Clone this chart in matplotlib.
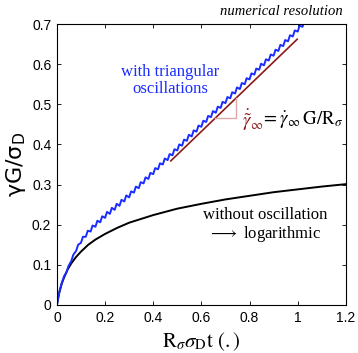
import matplotlib
matplotlib.use("Agg")
import matplotlib.pyplot as plt
import numpy as np

# without oscillation (black, logarithmic-like growth)
black_x = [0, 0.005, 0.01, 0.02, 0.03, 0.045, 0.06, 0.08, 0.1, 0.13, 0.16, 0.2,
           0.25, 0.3, 0.4, 0.5, 0.6, 0.7, 0.8, 0.9, 1.0, 1.1, 1.2]
black_y = [0, 0.017, 0.031, 0.053, 0.069, 0.089, 0.104, 0.120, 0.133, 0.150, 0.163, 0.177,
           0.192, 0.205, 0.224, 0.240, 0.252, 0.263, 0.272, 0.281, 0.288, 0.295, 0.301]

# with triangular oscillations (blue): start, then trough / peak vertices
blue_start_x = [0, 0.01, 0.02, 0.03]
blue_start_y = [0, 0.033, 0.055, 0.072]
trough_x = [0.04, 0.06, 0.08, 0.10, 0.12, 0.14, 0.16, 0.18, 0.20, 0.22, 0.24, 0.26, 0.28,
            0.30, 0.32, 0.34, 0.36, 0.38, 0.40, 0.42, 0.44, 0.46, 0.48, 0.50, 0.52, 0.54,
            0.56, 0.58, 0.60, 0.62, 0.64, 0.66, 0.68, 0.70, 0.72, 0.74, 0.76, 0.78, 0.80,
            0.82, 0.84, 0.86, 0.88, 0.90, 0.92, 0.94, 0.96, 0.98, 1.00, 1.02, 1.04]
trough_y = [0.082, 0.110, 0.135, 0.155, 0.170, 0.183, 0.195, 0.206, 0.217, 0.227, 0.237,
            0.247, 0.258, 0.268, 0.280, 0.291, 0.303, 0.314, 0.326, 0.338, 0.350, 0.361,
            0.373, 0.385, 0.397, 0.409, 0.420, 0.432, 0.444, 0.456, 0.468, 0.479, 0.491,
            0.503, 0.515, 0.527, 0.538, 0.550, 0.562, 0.574, 0.586, 0.597, 0.609, 0.621,
            0.633, 0.645, 0.657, 0.669, 0.681, 0.693, 0.705]
peak_x = [0.048, 0.068, 0.088, 0.108, 0.128, 0.148, 0.168, 0.188, 0.208, 0.228, 0.248,
          0.268, 0.288, 0.308, 0.328, 0.348, 0.368, 0.388, 0.408, 0.428, 0.448, 0.468,
          0.488, 0.508, 0.528, 0.548, 0.568, 0.588, 0.608, 0.628, 0.648, 0.668, 0.688,
          0.708, 0.728, 0.748, 0.768, 0.788, 0.808, 0.828, 0.848, 0.868, 0.888, 0.908,
          0.928, 0.948, 0.968, 0.988, 1.008, 1.028, 1.048]
peak_y = [0.097, 0.125, 0.150, 0.170, 0.185, 0.198, 0.210, 0.221, 0.232, 0.242, 0.252,
          0.262, 0.273, 0.283, 0.295, 0.306, 0.318, 0.329, 0.341, 0.353, 0.365, 0.376,
          0.388, 0.400, 0.412, 0.424, 0.435, 0.447, 0.459, 0.471, 0.483, 0.494, 0.506,
          0.518, 0.530, 0.542, 0.553, 0.565, 0.577, 0.589, 0.601, 0.612, 0.624, 0.636,
          0.648, 0.660, 0.672, 0.684, 0.696, 0.708, 0.720]

# asymptotic slope line and slope triangle
slope_x = [0.473, 0.998]
slope_y = [0.359, 0.662]
tri_x = [0.656, 0.743, 0.743]
tri_y = [0.465, 0.465, 0.515]

x_ticks = [0, 0.2, 0.4, 0.6, 0.8, 1.0, 1.2]
x_ticklabels = ["0", "0.2", "0.4", "0.6", "0.8", "1", "1.2"]
y_ticks = [0, 0.1, 0.2, 0.3, 0.4, 0.5, 0.6, 0.7]
y_ticklabels = ["0", "0.1", "0.2", "0.3", "0.4", "0.5", "0.6", "0.7"]

plt.rcParams["mathtext.fontset"] = "stix"
serif = "Liberation Serif"

fig = plt.figure(figsize=(3.58, 3.53), dpi=100)
ax = fig.add_axes([0.159, 0.136, 0.807, 0.796])

blue_x = blue_start_x + list(np.column_stack([trough_x, peak_x]).ravel())
blue_y = blue_start_y + list(np.column_stack([trough_y, peak_y]).ravel())

ax.plot(black_x, black_y, color="black", linewidth=1.4)
ax.plot(blue_x, blue_y, color="#1a2cff", linewidth=1.4)
ax.plot(slope_x, slope_y, color="#8b1a1a", linewidth=1.2)
ax.plot(tri_x, tri_y, color="#e0a8a8", linewidth=1.0)

ax.set_xlim(0, 1.2)
ax.set_ylim(0, 0.7)
ax.set_xticks(x_ticks)
ax.set_xticklabels(x_ticklabels, family="Liberation Sans", fontsize=10)
ax.set_yticks(y_ticks)
ax.set_yticklabels(y_ticklabels, family="Liberation Sans", fontsize=10)
ax.tick_params(direction="in", top=True, right=True, length=3, width=0.6, pad=4)
for s in ax.spines.values():
    s.set_linewidth(0.8)

ax.text(0.469, 0.560, "with triangular\noscillations", color="#1a2cff",
        family=serif, fontsize=12, ha="center", va="center", linespacing=1.1)
ax.text(0.863, 0.198, "without oscillation\n$\\longrightarrow$ logarithmic",
        family=serif, fontsize=12, ha="center", va="center", linespacing=1.1)
ax.text(0.99, 1.043, "numerical resolution", transform=ax.transAxes, family=serif,
        style="italic", fontsize=10.5, ha="right", va="center")
ax.text(0.768, 0.460, r"$\dot{\tilde{\gamma}}_\infty$", color="#8b1a1a",
        fontsize=13.5, ha="left", va="center")
ax.text(0.846, 0.460, r"$=\dot{\gamma}_\infty\,\mathrm{G}/\mathrm{R}_\sigma$",
        fontsize=13.5, ha="left", va="center")

ax.set_xlabel(r"$\mathrm{R}_\sigma\sigma_\mathrm{D}\mathrm{t}\ (.)$", fontsize=15, labelpad=4)
ax.set_ylabel(r"$\mathrm{\gamma G/\sigma_D}$", fontsize=16, labelpad=3,
              math_fontfamily="dejavusans")

fig.savefig("out.png", dpi=100)
